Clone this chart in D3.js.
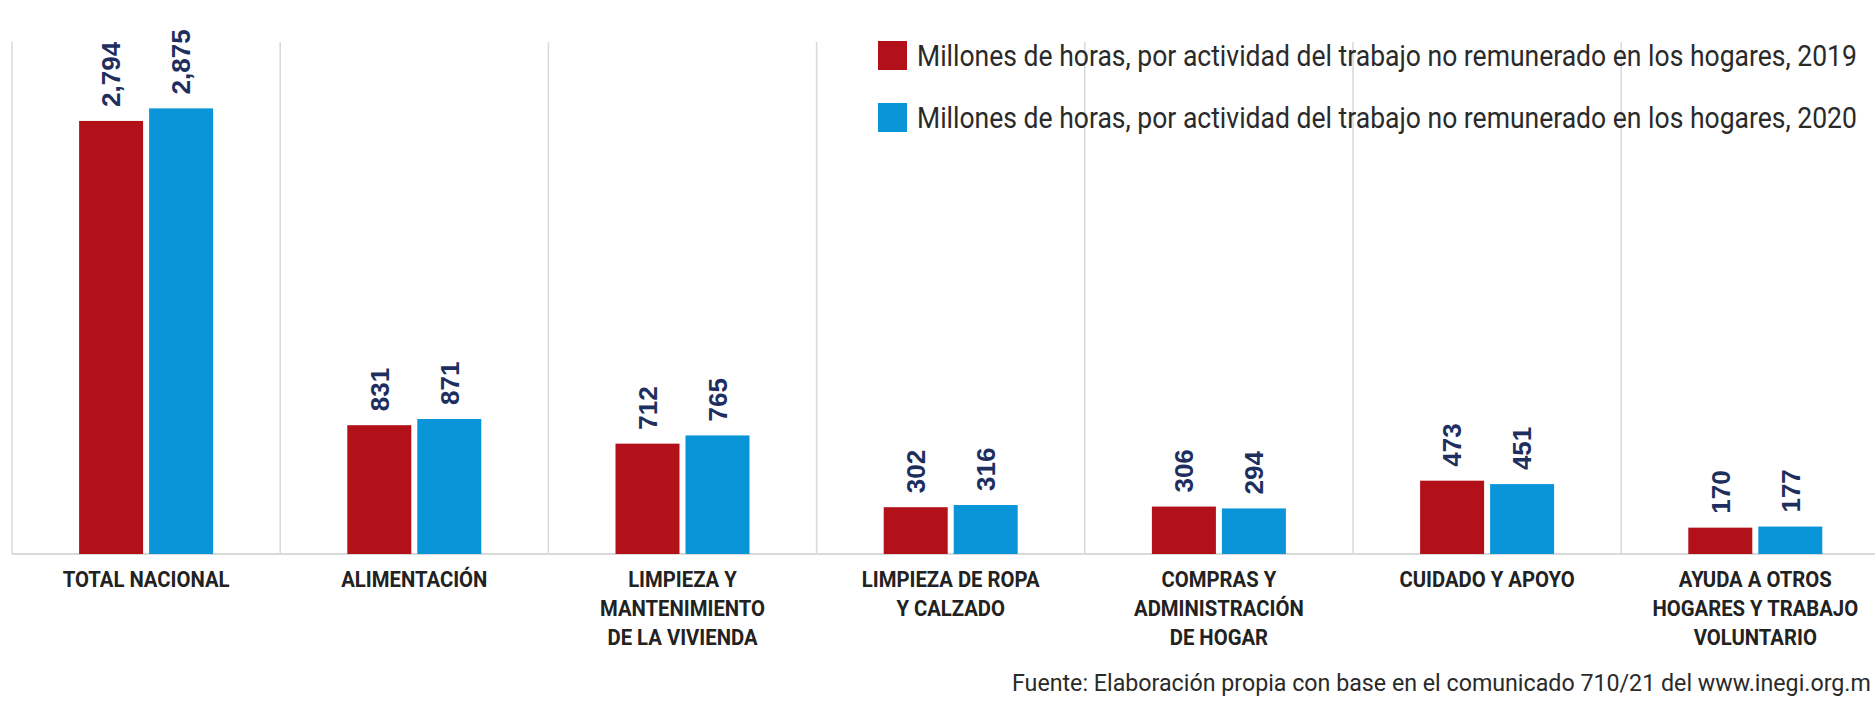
<!DOCTYPE html>
<html>
<head>
<meta charset="utf-8">
<script src="https://cdn.jsdelivr.net/npm/d3@7/dist/d3.min.js"></script>
<style>
  html, body { margin: 0; padding: 0; background: #ffffff; }
  svg { display: block; }
</style>
</head>
<body>
<svg id="chart" width="1875" height="701"></svg>
<script>
// ---- data ----
const categories = [
  "TOTAL NACIONAL",
  "ALIMENTACIÓN",
  "LIMPIEZA Y MANTENIMIENTO DE LA VIVIENDA",
  "LIMPIEZA DE ROPA Y CALZADO",
  "COMPRAS Y ADMINISTRACIÓN DE HOGAR",
  "CUIDADO Y APOYO",
  "AYUDA A OTROS HOGARES Y TRABAJO VOLUNTARIO"
];
const categoryLines = [
  ["TOTAL NACIONAL"],
  ["ALIMENTACIÓN"],
  ["LIMPIEZA Y", "MANTENIMIENTO", "DE LA VIVIENDA"],
  ["LIMPIEZA DE ROPA", "Y CALZADO"],
  ["COMPRAS Y", "ADMINISTRACIÓN", "DE HOGAR"],
  ["CUIDADO Y APOYO"],
  ["AYUDA A OTROS", "HOGARES Y TRABAJO", "VOLUNTARIO"]
];
const seriesNames = [
  "Millones de horas, por actividad del trabajo no remunerado en los hogares, 2019",
  "Millones de horas, por actividad del trabajo no remunerado en los hogares, 2020"
];
const values2019 = [2794, 831, 712, 302, 306, 473, 170];
const values2020 = [2875, 871, 765, 316, 294, 451, 177];
const sourceText = "Fuente: Elaboración propia con base en el comunicado 710/21 del www.inegi.org.m";

// ---- styles ----
const colors = ["#b3111a", "#0a95d9"];
const labelColor = "#1e2f5f";
const textColor = "#222222";

const svg = d3.select("#chart");
const W = 1875, H = 701;
const baseY = 554, topY = 89;

const x0 = d3.scaleBand().domain(categories).range([12, 12 + 268.2 * 7]).paddingInner(0).paddingOuter(0);
const y = d3.scaleLinear().domain([0, 3000]).range([baseY, topY]);
const groupHalf = 67;
const x1 = d3.scaleBand().domain([0, 1]).range([x0.bandwidth() / 2 - groupHalf, x0.bandwidth() / 2 + groupHalf]).paddingInner(0.0857);

const series = [values2019, values2020];

// gridlines (band separators)
const gridG = svg.append("g");
categories.forEach((c, i) => {
  gridG.append("line")
    .attr("x1", x0(c)).attr("x2", x0(c))
    .attr("y1", 42).attr("y2", baseY)
    .attr("stroke", "#d9d9d9").attr("stroke-width", 1.5);
});
gridG.append("line")
  .attr("x1", x0(categories[0])).attr("x2", W)
  .attr("y1", baseY).attr("y2", baseY)
  .attr("stroke", "#d9d9d9").attr("stroke-width", 2);

// bars
const fmt = d3.format(",");
const groups = svg.append("g").selectAll("g").data(categories).join("g")
  .attr("transform", d => `translate(${x0(d)},0)`);

groups.each(function(c, i) {
  const g = d3.select(this);
  series.forEach((vals, s) => {
    const v = vals[i];
    g.append("rect")
      .attr("x", x1(s)).attr("width", x1.bandwidth())
      .attr("y", y(v)).attr("height", y(0) - y(v))
      .attr("fill", colors[s]);
    const cx = x1(s) + x1.bandwidth() / 2;
    g.append("text")
      .attr("transform", `translate(${cx},${y(v) - 14}) rotate(-90)`)
      .attr("dy", "0.36em")
      .attr("text-anchor", "start")
      .attr("font-family", "'Liberation Sans', Arial, sans-serif")
      .attr("font-weight", "bold")
      .attr("font-size", 26)
      .attr("fill", labelColor)
      .text(fmt(v));
  });
});

// x axis labels
const xlab = svg.append("g");
const lineYs = [587, 616, 645];
const labTexts = [];
categories.forEach((c, i) => {
  categoryLines[i].forEach((ln, j) => {
    const t = xlab.append("text")
      .attr("text-anchor", "middle")
      .attr("font-family", "Roboto, sans-serif")
      .attr("font-weight", 700)
      .attr("font-size", 22.5)
      .attr("fill", textColor)
      .attr("data-cx", x0(c) + x0.bandwidth() / 2)
      .attr("data-cy", lineYs[j])
      .text(ln);
    labTexts.push(t);
  });
});
const refW = labTexts[0].node().getComputedTextLength();
const sx = 167 / refW;
labTexts.forEach(t => {
  t.attr("transform", `translate(${t.attr("data-cx")},${t.attr("data-cy")}) scale(${sx},1)`);
});

// legend
const leg = svg.append("g");
const legY = [41, 103];
const legTexts = [];
seriesNames.forEach((name, s) => {
  leg.append("rect")
    .attr("x", 878).attr("y", legY[s])
    .attr("width", 29).attr("height", 29)
    .attr("fill", colors[s]);
  const t = leg.append("text")
    .attr("font-family", "Roboto, sans-serif")
    .attr("font-weight", 400)
    .attr("font-size", 29.5)
    .attr("fill", "#2a2a2a")
    .attr("data-y", legY[s] + 25)
    .text(name);
  legTexts.push(t);
});
const legW = legTexts[0].node().getComputedTextLength();
const lsx = 940 / legW;
legTexts.forEach(t => t.attr("transform", `translate(917,${t.attr("data-y")}) scale(${lsx},1)`));

// source
const src = svg.append("text")
  .attr("font-family", "Roboto, sans-serif")
  .attr("font-weight", 400)
  .attr("font-size", 24)
  .attr("fill", "#2a2a2a")
  .text(sourceText);
const srcW = src.node().getComputedTextLength();
const ssx = (1871 - 1012) / srcW;
src.attr("transform", `translate(1012,691) scale(${ssx},1)`);
</script>
</body>
</html>
